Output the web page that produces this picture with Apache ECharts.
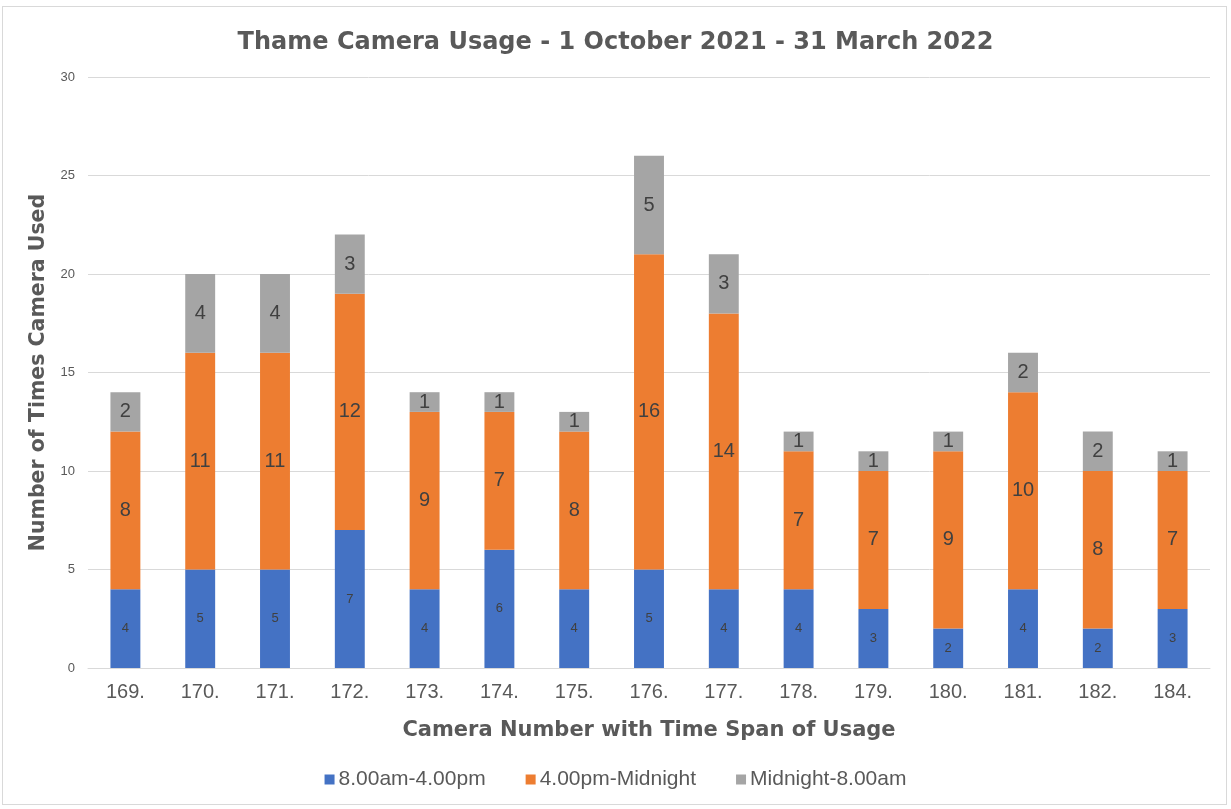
<!DOCTYPE html>
<html>
<head>
<meta charset="utf-8">
<script src="https://cdn.jsdelivr.net/npm/echarts@6/dist/echarts.min.js"></script>
<style>
  html, body { margin: 0; padding: 0; background: #fff; }
  #frame { position: absolute; left: 2px; top: 6px; width: 1225px; height: 799px; border: 1px solid #d9d9d9; box-sizing: border-box; }
  #chart { position: absolute; left: 0; top: 0; width: 1231px; height: 809px; }
</style>
</head>
<body>
<div id="frame"></div>
<div id="chart"></div>
<script>
// Camera numbers along the x axis
const cameras = ['169.', '170.', '171.', '172.', '173.', '174.', '175.', '176.', '177.', '178.', '179.', '180.', '181.', '182.', '184.'];
// Uses per time span
const daytime = [4, 5, 5, 7, 4, 6, 4, 5, 4, 4, 3, 2, 4, 2, 3];
const evening = [8, 11, 11, 12, 9, 7, 8, 16, 14, 7, 7, 9, 10, 8, 7];
const overnight = [2, 4, 4, 3, 1, 1, 1, 5, 3, 1, 1, 1, 2, 2, 1];
const seriesNames = ['8.00am-4.00pm', '4.00pm-Midnight', 'Midnight-8.00am'];
const yTicks = [0, 5, 10, 15, 20, 25, 30];

const font = '"Liberation Sans", Arial, sans-serif';
const heavy = '"DejaVu Sans", "Liberation Sans", Arial, sans-serif';

const chart = echarts.init(document.getElementById('chart'), null, { renderer: 'canvas' });

function bar(name, data, color, labelSize) {
  return {
    name: name,
    type: 'bar',
    stack: 'total',
    data: data,
    barWidth: '40%',
    itemStyle: { color: color },
    label: {
      show: true,
      position: 'inside',
      color: '#404040',
      fontFamily: font,
      fontSize: labelSize
    }
  };
}

chart.setOption({
  animation: false,
  title: {
    text: 'Thame Camera Usage - 1 October 2021 - 31 March 2022',
    left: 'center',
    top: 26,
    textStyle: { fontFamily: heavy, fontWeight: 'bold', fontSize: 24, color: '#595959' }
  },
  legend: {
    bottom: 14,
    left: 'center',
    itemWidth: 10,
    itemHeight: 10,
    itemGap: 40,
    icon: 'rect',
    textStyle: { fontFamily: font, fontSize: 21, color: '#595959', padding: [0, 0, 0, -1] },
    data: seriesNames
  },
  grid: { left: 88, right: 21, top: 77, bottom: 141 },
  xAxis: {
    type: 'category',
    data: cameras,
    name: 'Camera Number with Time Span of Usage',
    nameLocation: 'middle',
    nameGap: 52,
    nameTextStyle: { fontFamily: heavy, fontWeight: 'bold', fontSize: 21, color: '#595959' },
    axisLine: { lineStyle: { color: '#d9d9d9', width: 1 } },
    axisTick: { show: false },
    axisLabel: { fontFamily: font, fontSize: 20, color: '#595959', margin: 14 },
  },
  yAxis: {
    type: 'value',
    min: yTicks[0],
    max: yTicks[yTicks.length - 1],
    interval: 5,
    name: 'Number of Times Camera Used',
    nameLocation: 'middle',
    nameGap: 36,
    nameTextStyle: { fontFamily: heavy, fontWeight: 'bold', fontSize: 20.5, color: '#595959' },
    axisLine: { show: false },
    axisTick: { show: false },
    axisLabel: { fontFamily: font, fontSize: 13, color: '#595959', margin: 13 },
    splitLine: { lineStyle: { color: '#d9d9d9', width: 1 } }
  },
  series: [
    bar(seriesNames[0], daytime, '#4472C4', 13),
    bar(seriesNames[1], evening, '#ED7D31', 20),
    bar(seriesNames[2], overnight, '#A5A5A5', 20)
  ]
});
</script>
</body>
</html>
